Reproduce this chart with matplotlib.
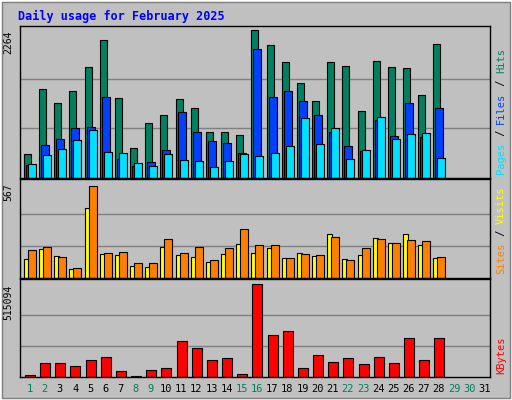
import numpy as np
import matplotlib.pyplot as plt
from matplotlib.patches import Rectangle

days = np.arange(1, 29)
hits = [360, 1350, 1140, 1320, 1680, 2090, 1210, 450, 830, 955, 1200, 1060, 695, 695, 650, 2250,
        2020, 1760, 1440, 1165, 1760, 1700, 1015, 1775, 1685, 1670, 1255, 2035]
files = [195, 500, 590, 760, 770, 1230, 285, 180, 240, 425, 1000, 695, 560, 530, 375, 1960,
         1230, 1320, 1165, 955, 695, 485, 410, 880, 635, 1140, 620, 1060]
pages = [210, 345, 440, 575, 730, 395, 380, 225, 180, 360, 270, 255, 165, 255, 360, 330,
         380, 485, 910, 515, 760, 290, 425, 925, 590, 665, 680, 305]
sites = [112, 171, 130, 53, 414, 142, 136, 71, 65, 183, 136, 124, 95, 142, 201, 148,
         177, 118, 148, 130, 260, 112, 136, 236, 207, 260, 195, 118]
visits = [165, 183, 124, 59, 544, 148, 154, 89, 89, 230, 148, 183, 106, 177, 290, 195,
          195, 118, 142, 136, 242, 106, 177, 230, 207, 225, 219, 124]
kbytes = [13200, 75200, 75200, 58300, 92100, 109000, 35700, 7500, 41400, 52600, 199300, 159800,
          92100, 103400, 18800, 515094, 233100, 255700, 52600, 120300, 80800, 103400, 69600,
          109000, 75200, 216200, 92100, 216200]
max_hits, max_visits, max_kb = 2264, 567, 515094
weekend = [1, 2, 8, 9, 15, 16, 22, 23, 29, 30]

W, H = 512, 400
fig = plt.figure(figsize=(W / 100, H / 100), dpi=100)
fig.patch.set_facecolor('#c0c0c0')
mono = 'DejaVu Sans Mono'

# bevel border
fig.add_artist(Rectangle((0, 0), 1, 1, transform=fig.transFigure, fill=False, ec='white', lw=2))
fig.add_artist(Rectangle((0.003, 0.004), 0.994, 0.992, transform=fig.transFigure, fill=False, ec='#808080', lw=1))

fig.text(18 / W, 1 - 16 / H, 'Daily usage for February 2025', color='#0000ff',
         fontsize=8.5, fontweight='bold', family=mono, va='center')


def panel(top, bottom):
    ax = fig.add_axes([20 / W, 1 - bottom / H, 470 / W, (bottom - top) / H])
    ax.set_facecolor('#c0c0c0')
    ax.set_xlim(0.5, 31.5)
    ax.set_xticks([])
    ax.set_yticks([])
    for s in ax.spines.values():
        s.set_color('black')
        s.set_linewidth(1)
    return ax


def setup_y(ax, vmax, frac):
    ax.set_ylim(0, vmax / frac)
    for g in (vmax / 3, 2 * vmax / 3):
        ax.axhline(g, color='#808080', lw=1, zorder=0)
    ax.text(-0.025, frac - 0.01, str(vmax), transform=ax.transAxes, rotation=90,
            ha='center', va='top', fontsize=7, family=mono)


def right_label(bottom_px, parts):
    # parts stacked bottom-to-top, rotated 90 degrees
    y = bottom_px - 2
    for txt, col in parts:
        fig.text(501 / W, 1 - y / H, txt, rotation=90, color=col,
                 ha='center', va='bottom', fontsize=7.5, family=mono)
        y -= len(txt) * 6.3


bar_kw = dict(edgecolor='black', linewidth=0.8, align='edge')
slot = 31 / 470  # data units per pixel

ax1 = panel(26, 178)
setup_y(ax1, max_hits, 149 / 152)
ax1.bar(days - 0.5 + 4 * slot, hits, width=7 * slot, color='#008060', **bar_kw)
ax1.bar(days - 0.5 + 6 * slot, files, width=8 * slot, color='#0040ff', **bar_kw)
ax1.bar(days - 0.5 + 8 * slot, pages, width=8 * slot, color='#00e0ff', **bar_kw)

ax2 = panel(179, 278)
setup_y(ax2, max_visits, 96 / 99)
ax2.bar(days - 0.5 + 4 * slot, sites, width=5 * slot, color='#ffff00', **bar_kw)
ax2.bar(days - 0.5 + 8 * slot, visits, width=8 * slot, color='#ff8000', **bar_kw)

ax3 = panel(279, 377)
setup_y(ax3, max_kb, 93 / 98)
ax3.bar(days - 0.5 + 5 * slot, kbytes, width=10 * slot, color='#ff0000', **bar_kw)

right_label(176, [('Pages', '#00e0ff'), (' / ', 'black'), ('Files', '#0040ff'),
                  (' / ', 'black'), ('Hits', '#008060')])
right_label(276, [('Sites', '#ff8000'), (' / ', 'black'), ('Visits', '#ffff00')])
right_label(376, [('KBytes', '#ff0000')])

for d in range(1, 32):
    col = '#008060' if d in weekend else 'black'
    fig.text((20 + (d - 0.5) * 470 / 31 + 2) / W, 1 - 389 / H, str(d), color=col,
             ha='center', va='center', fontsize=7.5, family=mono)

fig.savefig('out.png', dpi=100, facecolor=fig.get_facecolor())
